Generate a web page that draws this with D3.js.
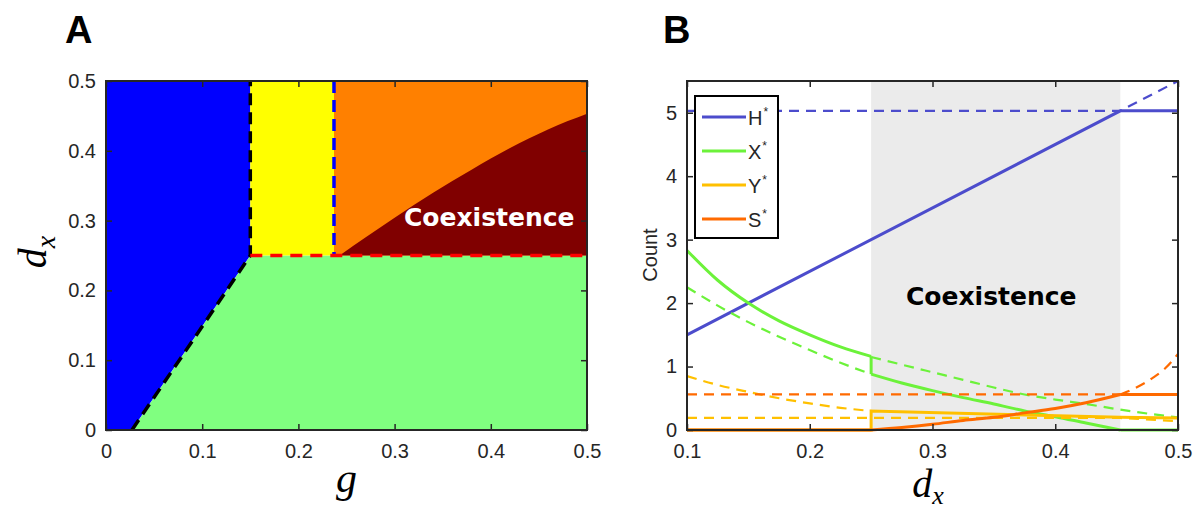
<!DOCTYPE html>
<html><head><meta charset="utf-8">
<script src="https://cdn.jsdelivr.net/npm/d3@7"></script>
<style>body{margin:0;background:#fff}</style>
</head><body><svg id="c" width="1202" height="513"></svg>
<script>
// ---------- DATA ----------
const gTicks = [0, 0.1, 0.2, 0.3, 0.4, 0.5];
const dxTicksA = [0, 0.1, 0.2, 0.3, 0.4, 0.5];
const dxTicksB = [0.1, 0.2, 0.3, 0.4, 0.5];
const countTicks = [0, 1, 2, 3, 4, 5];

// Panel A phase boundaries
const blueEdgeG = [0.027, 0.15, 0.15];
const blueEdgeD = [0, 0.25, 0.5];
const yellowOrangeG = 0.237;
const switchD = 0.25;
const coexG = [0.245, 0.27, 0.3, 0.34, 0.38, 0.42, 0.46, 0.5];
const coexD = [0.252, 0.276, 0.304, 0.34, 0.373, 0.404, 0.431, 0.453];

// Panel B
const shadeDx = [0.25, 0.453];
const hSolidDx = [0.1, 0.453, 0.5],  hSolid = [1.5, 5.03, 5.03];
const hDashDx  = [0.1, 0.453, 0.5],  hDash  = [5.03, 5.03, 5.5];
const xSolidUpDx  = [0.1, 0.125, 0.15, 0.175, 0.2, 0.225, 0.25];
const xSolidUp    = [2.83, 2.36, 2.0, 1.72, 1.5, 1.31, 1.16];
const xJumpDx     = [0.25, 0.25], xJump = [1.16, 0.88];
const xSolidLowDx = [0.25, 0.275, 0.3, 0.325, 0.35, 0.375, 0.4, 0.425, 0.453];
const xSolidLow   = [0.88, 0.74, 0.62, 0.51, 0.41, 0.3, 0.21, 0.11, 0];
const xTailDx     = [0.453, 0.5], xTail = [0, 0];
const xDashLeftDx = [0.1, 0.125, 0.15, 0.175, 0.2, 0.225, 0.25];
const xDashLeft   = [2.25, 1.96, 1.7, 1.47, 1.26, 1.06, 0.88];
const xDashRightDx = [0.25, 0.275, 0.3, 0.325, 0.35, 0.375, 0.4, 0.425, 0.45, 0.475, 0.5];
const xDashRight   = [1.15, 1.03, 0.91, 0.79, 0.67, 0.56, 0.48, 0.41, 0.33, 0.26, 0.2];
const ySolidDx = [0.1, 0.25, 0.25, 0.453, 0.5], ySolid = [0, 0, 0.3, 0.2, 0.19];
const yDashLeftDx = [0.1, 0.125, 0.15, 0.175, 0.2, 0.225, 0.25];
const yDashLeft   = [0.85, 0.71, 0.6, 0.5, 0.42, 0.35, 0.3];
const yDashLowDx = [0.1, 0.453, 0.5], yDashLow = [0.19, 0.19, 0.14];
const sFlatDx = [0.1, 0.25], sFlat = [0, 0];
const sRiseDx = [0.25, 0.275, 0.3, 0.325, 0.35, 0.375, 0.4, 0.425, 0.453];
const sRise   = [0, 0.04, 0.09, 0.15, 0.2, 0.27, 0.34, 0.43, 0.56];
const sTailDx = [0.453, 0.5], sTail = [0.56, 0.56];
const sDashFlatDx = [0.1, 0.453], sDashFlat = [0.56, 0.56];
const sDashRiseDx = [0.453, 0.465, 0.48, 0.49, 0.5], sDashRise = [0.56, 0.66, 0.83, 0.98, 1.2];

const legendLabels = ["H", "X", "Y", "S"];
const colH = "#4c4ccc", colX = "#6cf23a", colY = "#ffc000", colS = "#ff6a00";
const legendColors = [colH, colX, colY, colS];

// ---------- DRAW ----------
const svg = d3.select("#c");
svg.append("rect").attr("width", 1202).attr("height", 513).attr("fill", "#fff");
const axisCol = "#262626";
const tickFont = "'Liberation Sans', Arial, sans-serif";

function styleAxis(g) {
  g.select(".domain").remove();
  g.selectAll(".tick line").attr("stroke", axisCol).attr("stroke-width", 1.5);
  g.selectAll(".tick text").attr("fill", axisCol).style("font-family", tickFont).style("font-size", "20px");
}

// ===== Panel A =====
const A = {l: 106, r: 587, t: 81, b: 430};
const xA = d3.scaleLinear().domain([0, 0.5]).range([A.l, A.r]);
const yA = d3.scaleLinear().domain([0, 0.5]).range([A.b, A.t]);
const gA = svg.append("g");
const poly = pts => "M" + pts.map(p => xA(p[0]) + "," + yA(p[1])).join("L") + "Z";

// blue
gA.append("path").attr("fill", "#0000ff").attr("d", poly([[0,0],[blueEdgeG[0],blueEdgeD[0]],[blueEdgeG[1],blueEdgeD[1]],[blueEdgeG[2],blueEdgeD[2]],[0,0.5]]));
// green
gA.append("path").attr("fill", "#80ff80").attr("d", poly([[blueEdgeG[0],0],[0.5,0],[0.5,switchD],[blueEdgeG[1],switchD]]));
// yellow
gA.append("path").attr("fill", "#ffff00").attr("d", poly([[blueEdgeG[1],switchD],[yellowOrangeG,switchD],[yellowOrangeG,0.5],[blueEdgeG[1],0.5]]));
// orange
gA.append("path").attr("fill", "#ff8000").attr("d", poly([[yellowOrangeG,switchD],[0.5,switchD],[0.5,0.5],[yellowOrangeG,0.5]]));
// dark red coexistence (smooth upper boundary)
const coexLine = d3.line().x(d => xA(d[0])).y(d => yA(d[1])).curve(d3.curveMonotoneX);
const coexTop = coexLine(coexG.map((g, i) => [g, coexD[i]]));
gA.append("path").attr("fill", "#800000")
  .attr("d", coexTop + "L" + xA(0.5) + "," + yA(switchD) + "L" + xA(coexG[0]) + "," + yA(switchD) + "Z");

// dashed boundaries
gA.append("path").attr("fill", "none").attr("stroke", "#000").attr("stroke-width", 3.5).attr("stroke-dasharray", "12,7")
  .attr("d", d3.line().x((d, i) => xA(blueEdgeG[i])).y((d, i) => yA(blueEdgeD[i]))(blueEdgeG));
gA.append("line").attr("stroke", "#0000ff").attr("stroke-width", 3.5).attr("stroke-dasharray", "12,7")
  .attr("x1", xA(yellowOrangeG)).attr("x2", xA(yellowOrangeG)).attr("y1", yA(0.5)).attr("y2", yA(switchD));
gA.append("line").attr("stroke", "#ff0000").attr("stroke-width", 3.5).attr("stroke-dasharray", "12,8")
  .attr("x1", xA(blueEdgeG[1])).attr("x2", xA(0.5)).attr("y1", yA(switchD)).attr("y2", yA(switchD));

gA.append("text").attr("x", 404).attr("y", 226).attr("fill", "#fff")
  .style("font-family", "'DejaVu Sans', Verdana, sans-serif").style("font-weight", "bold").style("font-size", "25px")
  .text("Coexistence");

// axes A
gA.append("g").attr("transform", `translate(0,${A.b})`).call(d3.axisBottom(xA).tickValues(gTicks).tickFormat(d3.format("")).tickSizeInner(-6).tickSizeOuter(0).tickPadding(14)).call(styleAxis);
gA.append("g").attr("transform", `translate(0,${A.t})`).call(d3.axisTop(xA).tickValues(gTicks).tickFormat("").tickSizeInner(-6).tickSizeOuter(0)).call(styleAxis);
gA.append("g").attr("transform", `translate(${A.l},0)`).call(d3.axisLeft(yA).tickValues(dxTicksA).tickFormat(d3.format("")).tickSizeInner(-6).tickSizeOuter(0).tickPadding(10)).call(styleAxis);
gA.append("g").attr("transform", `translate(${A.r},0)`).call(d3.axisRight(yA).tickValues(dxTicksA).tickFormat("").tickSizeInner(-6).tickSizeOuter(0)).call(styleAxis);
gA.append("rect").attr("x", A.l).attr("y", A.t).attr("width", A.r - A.l).attr("height", A.b - A.t)
  .attr("fill", "none").attr("stroke", axisCol).attr("stroke-width", 2);

// ===== Panel B =====
const B = {l: 687, r: 1178, t: 81, b: 430};
const xB = d3.scaleLinear().domain([0.1, 0.5]).range([B.l, B.r]);
const yB = d3.scaleLinear().domain([0, 5.5]).range([B.b, B.t]);
const gB = svg.append("g");
gB.append("rect").attr("x", xB(shadeDx[0])).attr("y", B.t).attr("width", xB(shadeDx[1]) - xB(shadeDx[0])).attr("height", B.b - B.t).attr("fill", "#ebebeb");

function seg(dxs, vs, color, dashed, curved) {
  const line = d3.line().x(d => xB(d[0])).y(d => yB(d[1])).curve(curved ? d3.curveMonotoneX : d3.curveLinear);
  gB.append("path").attr("fill", "none").attr("stroke", color)
    .attr("stroke-width", dashed ? 2.2 : 3).attr("stroke-dasharray", dashed ? "10,7" : null)
    .attr("d", line(dxs.map((x, i) => [x, vs[i]])));
}
// H
seg(hDashDx, hDash, colH, true, false);
seg(hSolidDx, hSolid, colH, false, false);
// X
seg(xDashLeftDx, xDashLeft, colX, true, true);
seg(xDashRightDx, xDashRight, colX, true, true);
seg(xSolidUpDx, xSolidUp, colX, false, true);
seg(xJumpDx, xJump, colX, false, false);
seg(xSolidLowDx, xSolidLow, colX, false, true);
seg(xTailDx, xTail, colX, false, false);
// Y
seg(yDashLeftDx, yDashLeft, colY, true, true);
seg(yDashLowDx, yDashLow, colY, true, false);
seg(ySolidDx, ySolid, colY, false, false);
// S
seg(sDashFlatDx, sDashFlat, colS, true, false);
seg(sDashRiseDx, sDashRise, colS, true, true);
seg(sFlatDx, sFlat, colS, false, false);
seg(sRiseDx, sRise, colS, false, true);
seg(sTailDx, sTail, colS, false, false);

gB.append("text").attr("x", 906).attr("y", 305).attr("fill", "#000")
  .style("font-family", "'DejaVu Sans', Verdana, sans-serif").style("font-weight", "bold").style("font-size", "25px")
  .text("Coexistence");

// axes B
gB.append("g").attr("transform", `translate(0,${B.b})`).call(d3.axisBottom(xB).tickValues(dxTicksB).tickFormat(d3.format("")).tickSizeInner(-6).tickSizeOuter(0).tickPadding(14)).call(styleAxis);
gB.append("g").attr("transform", `translate(0,${B.t})`).call(d3.axisTop(xB).tickValues(dxTicksB).tickFormat("").tickSizeInner(-6).tickSizeOuter(0)).call(styleAxis);
gB.append("g").attr("transform", `translate(${B.l},0)`).call(d3.axisLeft(yB).tickValues(countTicks).tickFormat(d3.format("")).tickSizeInner(-6).tickSizeOuter(0).tickPadding(10)).call(styleAxis);
gB.append("g").attr("transform", `translate(${B.r},0)`).call(d3.axisRight(yB).tickValues(countTicks).tickFormat("").tickSizeInner(-6).tickSizeOuter(0)).call(styleAxis);
gB.append("rect").attr("x", B.l).attr("y", B.t).attr("width", B.r - B.l).attr("height", B.b - B.t)
  .attr("fill", "none").attr("stroke", axisCol).attr("stroke-width", 2);

// legend
const lg = gB.append("g");
lg.append("rect").attr("x", 695).attr("y", 96).attr("width", 83).attr("height", 142).attr("fill", "#fff").attr("stroke", "#000").attr("stroke-width", 2);
legendLabels.forEach((lab, i) => {
  const yy = 117 + i * 34;
  lg.append("line").attr("x1", 702).attr("x2", 746).attr("y1", yy).attr("y2", yy).attr("stroke", legendColors[i]).attr("stroke-width", 3);
  const t = lg.append("text").attr("x", 748).attr("y", yy + 8).attr("fill", axisCol).style("font-family", tickFont).style("font-size", "20px");
  t.append("tspan").text(lab);
  t.append("tspan").attr("dy", -9).attr("dx", 1).style("font-size", "12px").text("*");
});

// ---------- labels ----------
const serif = "'Liberation Serif', 'Times New Roman', serif";
svg.append("text").attr("x", 65).attr("y", 43).style("font-family", tickFont).style("font-weight", "bold").style("font-size", "38px").text("A");
svg.append("text").attr("x", 663).attr("y", 43).style("font-family", tickFont).style("font-weight", "bold").style("font-size", "38px").text("B");

svg.append("text").attr("x", (A.l + A.r) / 2).attr("y", 492).attr("text-anchor", "middle")
  .style("font-family", serif).style("font-style", "italic").style("font-size", "42px").text("g");

const dxA = svg.append("text").attr("transform", "translate(46,252) rotate(-90)").attr("text-anchor", "middle")
  .style("font-family", serif).style("font-style", "italic").style("font-size", "40px");
dxA.append("tspan").text("d");
dxA.append("tspan").attr("dy", 9).style("font-size", "28px").text("x");

const dxB = svg.append("text").attr("x", 928).attr("y", 497).attr("text-anchor", "middle")
  .style("font-family", serif).style("font-style", "italic").style("font-size", "40px");
dxB.append("tspan").text("d");
dxB.append("tspan").attr("dy", 7).style("font-size", "26px").text("x");

svg.append("text").attr("transform", "translate(657,255) rotate(-90)").attr("text-anchor", "middle")
  .attr("fill", axisCol).style("font-family", tickFont).style("font-size", "20px").text("Count");
</script></body></html>
